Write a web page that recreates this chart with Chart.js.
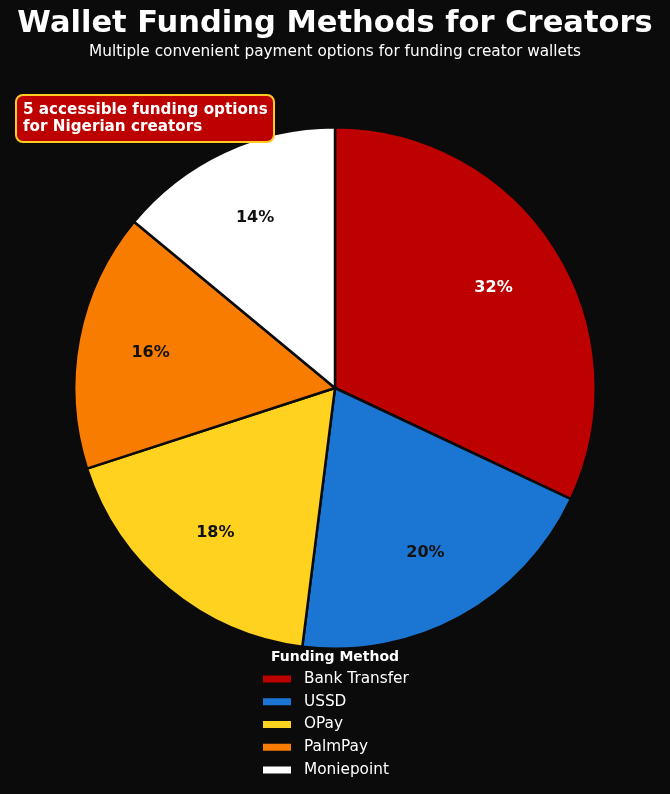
<!DOCTYPE html>
<html>
<head>
<meta charset="utf-8">
<script src="https://cdn.jsdelivr.net/npm/chart.js@4"></script>
<style>
  html, body { margin: 0; padding: 0; background: #0b0b0b; }
  #wrap { width: 670px; height: 794px; position: relative; }
</style>
</head>
<body>
<div id="wrap"><canvas id="myChart"></canvas></div>
<script>
var methods = ['Bank Transfer', 'USSD', 'OPay', 'PalmPay', 'Moniepoint']
var shares = [32, 20, 18, 16, 14]
var colors = ['#bd0000', '#1b76d3', '#ffd21f', '#f77c00', '#ffffff']
var labelColors = ['#ffffff', '#111111', '#111111', '#111111', '#111111']

var titleText = 'Wallet Funding Methods for Creators'
var subtitleText = 'Multiple convenient payment options for funding creator wallets'
var noteLines = ['5 accessible funding options', 'for Nigerian creators']
var legendTitle = 'Funding Method'

var FONT = '"DejaVu Sans", sans-serif'

// draws titles, note box, slice labels and the vertical legend
var extras = {
  id: 'extras',
  afterDraw: function(chart) {
    var c = chart.ctx
    c.save()

    c.fillStyle = '#ffffff'
    c.textAlign = 'center'
    c.textBaseline = 'middle'
    c.font = 'bold 30.5px ' + FONT
    c.fillText(titleText, 335, 24)
    c.font = '15.3px ' + FONT
    c.fillText(subtitleText, 335, 52)

    // percent labels
    var meta = chart.getDatasetMeta(0)
    meta.data.forEach(function(arc, i) {
      var mid = (arc.startAngle + arc.endAngle) / 2
      var r = arc.outerRadius * 0.72
      c.fillStyle = labelColors[i]
      c.font = 'bold 16px ' + FONT
      c.fillText(shares[i] + '%', arc.x + Math.cos(mid) * r, arc.y + Math.sin(mid) * r)
    })

    // note box
    c.beginPath()
    c.roundRect(16, 95, 258, 47, 7)
    c.fillStyle = '#bd0000'
    c.fill()
    c.lineWidth = 2
    c.strokeStyle = '#ffcc22'
    c.stroke()
    c.fillStyle = '#ffffff'
    c.textAlign = 'left'
    c.font = 'bold 15.2px ' + FONT
    c.fillText(noteLines[0], 23, 110)
    c.fillText(noteLines[1], 23, 127)

    // legend
    c.textAlign = 'center'
    c.font = 'bold 14px ' + FONT
    c.fillText(legendTitle, 335, 657)
    c.textAlign = 'left'
    c.font = '15.3px ' + FONT
    methods.forEach(function(m, i) {
      var y = 679 + i * 22.75
      c.fillStyle = colors[i]
      c.fillRect(263, y - 3.5, 28, 7)
      c.fillStyle = '#ffffff'
      c.fillText(m, 304, y)
    })

    c.restore()
  }
}

var ctx = document.getElementById('myChart').getContext('2d')

var chart = new Chart(ctx, {
  type: 'pie',
  data: {
    labels: methods,
    datasets: [{
      data: shares,
      backgroundColor: colors,
      borderColor: '#0b0b0b',
      borderWidth: 2.5,
      hoverOffset: 0
    }]
  },
  options: {
    responsive: true,
    maintainAspectRatio: false,
    animation: false,
    layout: { padding: { top: 126, bottom: 144, left: 73, right: 73 } },
    plugins: {
      legend: { display: false },
      tooltip: { enabled: false }
    }
  },
  plugins: [extras, {
    id: 'bg',
    beforeDraw: function(chart) {
      chart.ctx.save()
      chart.ctx.fillStyle = '#0b0b0b'
      chart.ctx.fillRect(0, 0, chart.width, chart.height)
      chart.ctx.restore()
    }
  }]
})
</script>
</body>
</html>
